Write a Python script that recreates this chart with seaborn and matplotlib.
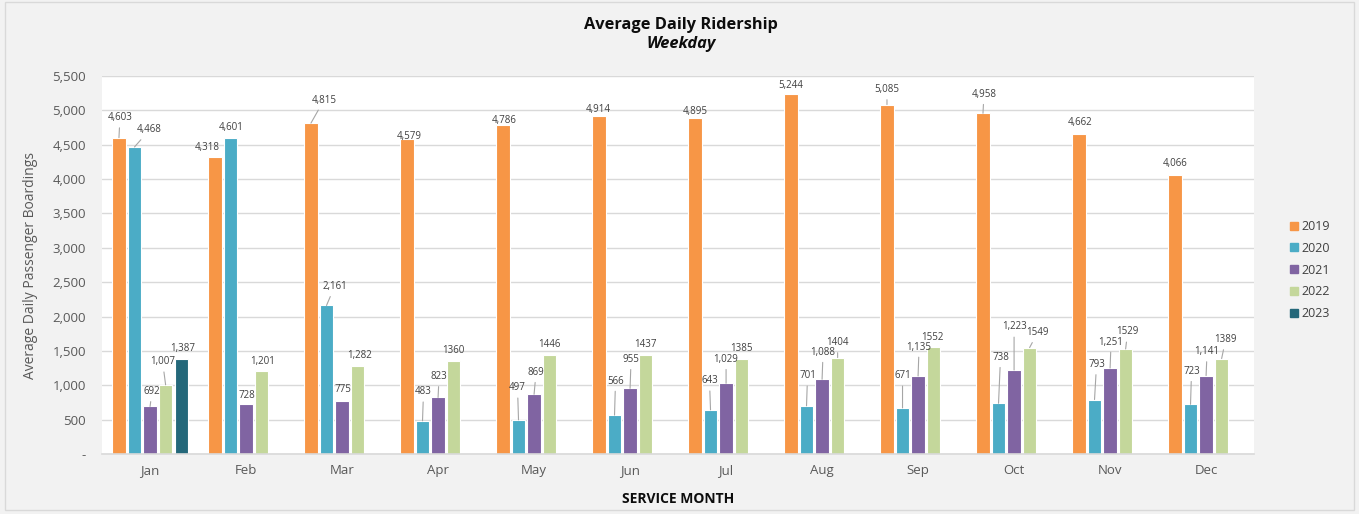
import numpy as np
import pandas as pd
import matplotlib.pyplot as plt
from matplotlib.patches import Rectangle
import seaborn as sns

months = ["Jan", "Feb", "Mar", "Apr", "May", "Jun", "Jul", "Aug", "Sep", "Oct", "Nov", "Dec"]
years = ["2019", "2020", "2021", "2022", "2023"]

riders_2019 = [4603, 4318, 4815, 4579, 4786, 4914, 4895, 5244, 5085, 4958, 4662, 4066]
riders_2020 = [4468, 4601, 2161, 483, 497, 566, 643, 701, 671, 738, 793, 723]
riders_2021 = [692, 728, 775, 823, 869, 955, 1029, 1088, 1135, 1223, 1251, 1141]
riders_2022 = [1007, 1201, 1282, 1360, 1446, 1437, 1385, 1404, 1552, 1549, 1529, 1389]
riders_2023 = [1387, None, None, None, None, None, None, None, None, None, None, None]

colors = ["#F79646", "#4BACC6", "#8064A2", "#C4D79B", "#24687A"]

# label offsets (pixels) from the bar top, (dx, dy) with dy downward
label_offsets = {
    "2019": [(1, -20), (-8, -10), (13, -23), (2, -3), (1, -5), (-1, -7),
             (0, -6), (0, -8), (0, -15), (1, -19), (1, -11), (0, -11)],
    "2020": [(15, -17), (1, -10), (8, -19), (1, -29), (-1, -32), (1, -34),
             (-1, -29), (1, -30), (0, -32), (2, -46), (2, -35), (1, -33)],
    "2021": [(2, -15), (1, -8), (1, -11), (1, -21), (2, -22), (1, -29),
             (0, -24), (1, -27), (1, -29), (0, -43), (1, -26), (1, -24)],
    "2022": [(-3, -23), (1, -10), (2, -10), (0, -10), (0, -10), (0, -11),
             (0, -10), (0, -15), (-1, -10), (8, -15), (2, -17), (4, -19)],
    "2023": [(1, -10)] + [(0, 0)] * 11,
}

series = dict(zip(years, [riders_2019, riders_2020, riders_2021, riders_2022, riders_2023]))
rows = []
for yr, vals in series.items():
    for m, v in zip(months, vals):
        rows.append({"month": m, "year": yr, "riders": v})
df = pd.DataFrame(rows)

sns.set_style("white")
plt.rcParams["font.family"] = ["Open Sans", "DejaVu Sans"]

fig = plt.figure(figsize=(13.59, 5.14), dpi=100, facecolor="#F2F2F2")
ax = fig.add_axes([0.0751, 0.1167, 0.8477, 0.7354])
ax.set_facecolor("white")

sns.barplot(data=df, x="month", y="riders", hue="year", order=months, hue_order=years,
            palette=colors, saturation=1, width=0.81, gap=0.15, errorbar=None,
            edgecolor="white", linewidth=0.8, ax=ax)
ax.get_legend().remove()

ax.set_ylim(0, 5500)
ax.set_yticks(np.arange(0, 5501, 500))
ax.set_yticklabels(["-" if t == 0 else f"{t:,}" for t in np.arange(0, 5501, 500)])
ax.yaxis.grid(True, color="#D9D9D9", linewidth=1)
ax.set_axisbelow(True)
for s in ["top", "right", "left"]:
    ax.spines[s].set_visible(False)
ax.spines["bottom"].set_color("#D9D9D9")
ax.spines["bottom"].set_linewidth(1.2)
ax.tick_params(axis="y", length=0, pad=11.5, labelsize=9.5, labelcolor="#595959")
ax.tick_params(axis="x", length=0, pad=7, labelsize=9.5, labelcolor="#595959")
ax.set_xlabel("SERVICE MONTH", fontsize=10, fontweight="bold", color="#0D0D0D", labelpad=11)
ax.set_ylabel("Average Daily Passenger Boardings", fontsize=10, color="#595959")
ax.yaxis.set_label_coords(-0.056, 0.5)

# data labels
for yr, cont in zip(years, ax.containers):
    vals = series[yr]
    for p in cont:
        xc = p.get_x() + p.get_width() / 2
        idx = int(round(xc))
        v = vals[idx]
        if v is None or np.isnan(p.get_height()):
            continue
        txt = f"{v}" if (yr == "2022" and idx >= 3) else f"{v:,}"
        dx, dy = label_offsets[yr][idx]
        arrow = dict(arrowstyle="-", color="#A6A6A6", lw=0.8, shrinkA=1, shrinkB=0) if abs(dy) >= 14 else None
        ax.annotate(txt, xy=(xc, v), xytext=(dx, -dy), textcoords="offset pixels",
                    ha="center", va="center", fontsize=7, color="#404040", arrowprops=arrow)

# legend
handles = [plt.Rectangle((0, 0), 1, 1, color=c) for c in colors]
fig.legend(handles, years, loc="center left", bbox_to_anchor=(1279 / 1359, 1 - 270 / 514),
           frameon=False, fontsize=9, handlelength=0.6, handleheight=0.6, handletextpad=0.3,
           labelspacing=0.7, labelcolor="#404040")

fig.text(681 / 1359, 1 - 25 / 514, "Average Daily Ridership", ha="center", va="center",
         fontsize=11.8, fontweight="bold", color="#0D0D0D")
fig.text(681 / 1359, 1 - 44 / 514, "Weekday", ha="center", va="center",
         fontsize=11.8, fontweight="bold", fontstyle="italic", color="#0D0D0D")

fig.patches.append(Rectangle((5 / 1359, 4 / 514), 1349 / 1359, 508 / 514, transform=fig.transFigure,
                             fill=False, edgecolor="#D9D9D9", linewidth=1))

fig.savefig("out.png", dpi=100, facecolor=fig.get_facecolor())
